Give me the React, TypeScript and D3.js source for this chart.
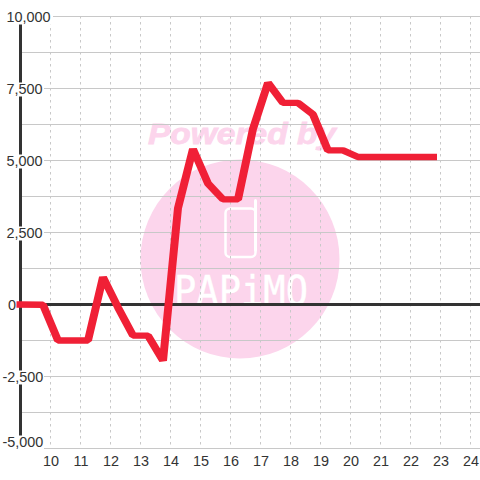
import React from "react";
import * as d3 from "d3";

const hours = [9, 9.75, 10.25, 11.25, 11.75, 12.25, 12.75, 13.25, 13.75, 14.25, 14.75, 15.25, 15.75, 16.25, 16.75, 17.25, 17.75, 18.25, 18.75, 19.25, 19.75, 20.25, 20.75, 21.25, 21.75, 22.25, 22.75];
const profit = [0, -10, -1250, -1250, 950, -100, -1080, -1080, -1950, 3350, 5400, 4200, 3650, 3650, 6100, 7700, 7000, 7000, 6600, 5350, 5350, 5120, 5120, 5120, 5120, 5120, 5120];
const xTicks = [10, 11, 12, 13, 14, 15, 16, 17, 18, 19, 20, 21, 22, 23, 24];
const yGrid = [10000, 8750, 7500, 6250, 5000, 3750, 2500, 1250, -1250, -2500, -3750, -5000];
const yLabels = ["10,000", "7,500", "5,000", "2,500", "0", "-2,500", "-5,000"];
const yLabelValues = [10000, 7500, 5000, 2500, 0, -2500, -5000];

const squash = 0.8;
const x = d3.scaleLinear().domain([10, 24]).range([50.5, 470.5]);
const y = d3.scaleLinear().domain([10000, -5000]).range([16.5, 448.5]);
const line = d3.line<number>().x((_, i) => x(hours[i])).y((d) => y(d) / squash).curve(d3.curveLinear);
const font = "'Liberation Sans', Arial, sans-serif";

export default function App() {
  return (
    <svg width={480} height={480} style={{ position: "fixed", left: 0, top: 0 }} fontFamily={font}>
      <rect width={480} height={480} fill="#fff" />
      <circle cx={240} cy={259} r={99.5} fill="#fcd5ec" />
      <text x={148} y={144} fontSize={30} fontWeight="bold" fontStyle="italic" fill="#fcd5ec" stroke="#fcd5ec" strokeWidth={0.8} textLength={188} lengthAdjust="spacingAndGlyphs">Powered by</text>
      <rect x={225.5} y={208.5} width={30} height={48.5} rx={4.5} fill="none" stroke="#fff" strokeWidth={2.5} />
      <line x1={255.5} x2={255.5} y1={200.5} y2={250} stroke="#fff" strokeWidth={3} strokeLinecap="round" />
      <text x={174} y={305} fontSize={41} fill="#fff" stroke="#fff" strokeWidth={0.4} textLength={134} lengthAdjust="spacingAndGlyphs" fontFamily="'DejaVu Sans Mono', monospace">PAPiMO</text>
      {yGrid.map((v) => (
        <line key={v} x1={20} x2={480} y1={y(v)} y2={y(v)} stroke="#c8c8c8" strokeWidth={1} />
      ))}
      {xTicks.map((t) => (
        <line key={t} x1={x(t)} x2={x(t)} y1={16} y2={448} stroke="#c8c8c8" strokeWidth={1} strokeDasharray="2.5 3.5" />
      ))}
      <line x1={20.5} x2={20.5} y1={16} y2={448} stroke="#333" strokeWidth={3} />
      <line x1={20} x2={480} y1={y(0)} y2={y(0)} stroke="#333" strokeWidth={3} />
      {yLabelValues.map((v, i) => {
        const yy = y(v) - (v === -5000 ? 7 : 0);
        return (
          <g key={v}>
            <rect x={v < 0 ? 3 : 7} y={yy - 6} width={v === 10000 ? 46 : v === 0 ? 9 : v < 0 ? 41 : 37} height={14} fill="#fff" />
            <text x={v < 0 ? 2.5 : v === 0 ? 8 : 6.5} y={yy + 5} fontSize={14.4} fill="#333">{yLabels[i]}</text>
          </g>
        );
      })}
      {xTicks.map((t) => (
        <text key={t} x={x(t) + 0.5} y={466} fontSize={14.4} fill="#333" textAnchor="middle">{t}</text>
      ))}
      <g transform={`scale(1, ${squash})`}>
        <path d={line(profit) ?? ""} fill="none" stroke="#f02036" strokeWidth={8} strokeLinejoin="bevel" strokeLinecap="square" />
      </g>
    </svg>
  );
}
